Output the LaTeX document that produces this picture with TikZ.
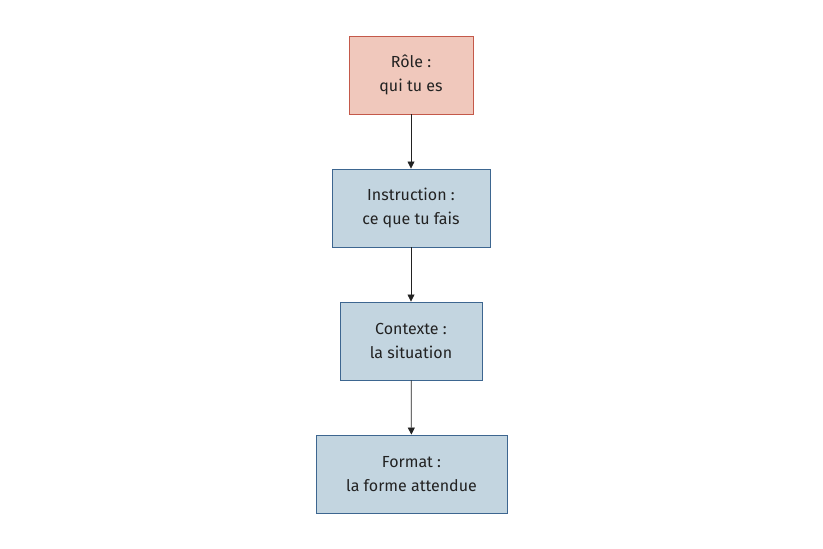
\documentclass[tikz,border=0pt]{standalone}
\usepackage{fontspec}
\setmainfont{Fira Sans}
\usetikzlibrary{arrows.meta}
\definecolor{redfill}{HTML}{F0C8BC}
\definecolor{redline}{HTML}{C4594A}
\definecolor{bluefill}{HTML}{C3D5E0}
\definecolor{blueline}{HTML}{3D6690}
\definecolor{txt}{HTML}{222222}
\tikzset{
  box/.style={draw, line width=0.9pt, minimum height=78pt, align=center, inner sep=0pt,
    font=\fontsize{16}{24}\selectfont, text=txt},
  redbox/.style={box, fill=redfill, draw=redline},
  bluebox/.style={box, fill=bluefill, draw=blueline},
  conn/.style={draw=txt, line width=0.8pt, -{Triangle[length=7pt,width=7pt]}}
}
\begin{document}
\begin{tikzpicture}[x=1pt,y=1pt]
\useasboundingbox (0,0) rectangle (823,549);
\fill[white] (0,0) rectangle (823,549);
\node[redbox, minimum width=124pt] (role) at (411,474) {Rôle :\\qui tu es};
\node[bluebox, minimum width=158pt] (instr) at (411,341) {Instruction :\\ce que tu fais};
\node[bluebox, minimum width=142pt] (ctx) at (411,208) {Contexte :\\la situation};
\node[bluebox, minimum width=191pt] (fmt) at (411.5,75) {Format :\\la forme attendue};
\draw[conn] (role) -- (instr);
\draw[conn] (instr) -- (ctx);
\draw[conn] (ctx) -- (fmt);
\end{tikzpicture}
\end{document}
